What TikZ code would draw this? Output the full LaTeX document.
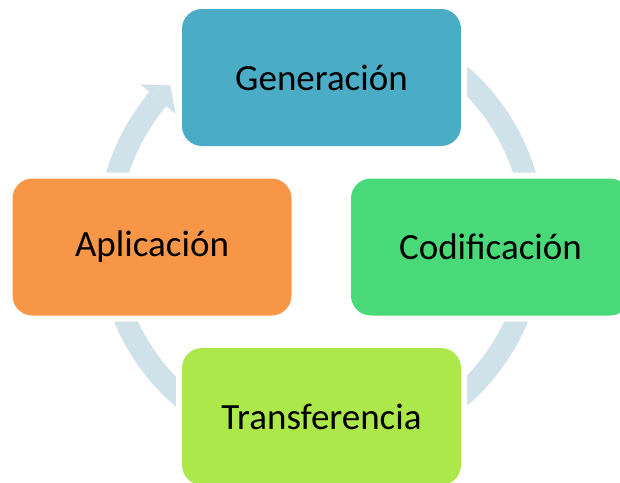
\documentclass[tikz,border=0pt]{standalone}
\usepackage{fontspec}
\setmainfont{Carlito}
\usetikzlibrary{calc}
\definecolor{genc}{HTML}{4BACC6}
\definecolor{codc}{HTML}{4AD978}
\definecolor{trac}{HTML}{ADE84A}
\definecolor{aplc}{HTML}{F79646}
\definecolor{ringc}{HTML}{CFE2EA}
\tikzset{
  stagebox/.style={rounded corners=20pt, inner sep=0pt,
    minimum width=279pt, minimum height=137pt,
    preaction={draw=white, line width=12pt},
    font=\fontsize{37}{44}\selectfont, text=black},
  ringband/.style={draw=ringc, line width=22pt, line cap=butt}
}
\begin{document}
\begin{tikzpicture}[x=1pt,y=1pt]
\useasboundingbox (0,0) rectangle (620,-482);
\clip (0,0) rectangle (620,-482);
\coordinate (c) at (321,-236);
% cycle ring
\draw[ringband] ($(c)+(140:213)$) arc[start angle=140, end angle=490, radius=213];
\fill[ringc] ($(c)+(140:190)$) -- ($(c)+(135:213)$) -- ($(c)+(140:236)$) -- cycle;
% stages
\node[stagebox, fill=genc] (gen) at (321.5,-77.5) {Generación};
\node[stagebox, fill=codc] (cod) at (490.5,-247) {Codificación};
\node[stagebox, fill=trac] (tra) at (321.5,-416.5) {Transferencia};
\node[stagebox, fill=aplc] (apl) at (152,-247) {Aplicación};
\end{tikzpicture}
\end{document}
